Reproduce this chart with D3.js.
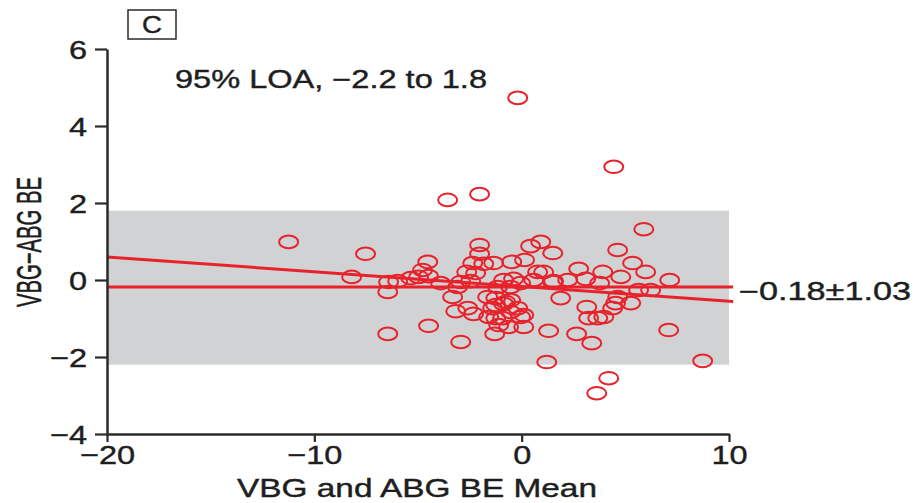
<!DOCTYPE html>
<html>
<head>
<meta charset="utf-8">
<script src="https://cdn.jsdelivr.net/npm/d3@7"></script>
<style>
  body { margin: 0; background: #fff; }
  svg { display: block; }
  text { font-family: "Liberation Sans", Arial, sans-serif; fill: #1e1e1e; stroke: #1e1e1e; stroke-width: 0.4px; }
  .tick text { font-size: 26px; fill: #1e1e1e; }
</style>
</head>
<body>
<svg width="918" height="503"></svg>
<script>
// mean of VBG and ABG BE (x) vs difference VBG-ABG BE (y)
var meanBE = [-0.19, 4.44, -2.03, -3.57, 5.89, -11.24, -7.53, -8.20, -6.46, -6.46,
  -4.49, -2.94, 1.21, 8.73, 4.20, 3.62, 7.09, 7.14, -2.03, -2.03,
  0.92, 0.43, 1.50, 4.63, -2.36, -1.83, -1.35, -0.48, 0.14, -4.53,
  5.35, 5.98, 3.91, 2.75, 4.78, 2.22, 3.09, 3.76, 0.77, 0.58,
  1.54, -0.39, -2.65, -2.22, -2.46, -3.09, -1.16, -0.53, -3.33, 1.88,
  4.63, 5.26, 6.22, 4.39, 3.14, 3.23, 3.67, 3.96, -3.18, -2.60,
  -2.32, -1.59, -1.40, -1.64, -1.25, -0.87, -0.53, -0.77, -0.19, -0.05,
  0.10, 0.10, -0.63, -1.11, -1.30, -1.25, -0.92, 1.30, 2.65, 3.38,
  -4.78, -4.49, -6.42, -5.98, -5.35, -4.97, -3.91, -2.94, 1.06, 1.50,
  -0.05, -0.87, -1.25, -0.53, 4.53, 5.64];
var diffBE = [4.73, 2.94, 2.23, 2.08, 1.32, 0.99, 0.68, 0.08, -0.31, -1.40,
  -1.19, -1.61, -2.13, -2.10, -2.55, -2.94, -1.30, 0.00, 0.91, 0.68,
  0.99, 0.88, 0.70, 0.78, 0.44, 0.42, 0.44, 0.47, 0.52, 0.47,
  0.44, 0.21, 0.21, 0.29, 0.08, 0.00, 0.03, -0.08, 0.21, 0.00,
  -0.03, 0.03, 0.21, 0.18, -0.03, -0.18, -0.18, -0.18, -0.44, -0.47,
  -0.44, -0.60, -0.26, -0.73, -0.70, -0.99, -0.99, -0.96, -0.81, -0.73,
  -0.88, -0.96, -0.73, -0.44, -0.47, -0.62, -0.52, -0.57, -0.73, -0.96,
  -0.91, -1.22, -1.22, -1.17, -1.40, -0.99, -0.99, -1.32, -1.40, -1.64,
  0.26, 0.10, -0.05, -0.03, 0.05, 0.08, -0.08, -0.05, 0.21, -0.05,
  -0.08, 0.00, -0.65, -0.83, -0.60, -0.26];

var xTicks = [-20, -10, 0, 10];
var yTicks = [-4, -2, 0, 2, 4, 6];
var meanDiff = -0.18, sdDiff = 1.03;
var loa = [-2.2, 1.8];
var regLine = [[-20, 0.6], [10.2, -0.56]];

var red = "#e8222b";
var svg = d3.select("svg");

var x = d3.scaleLinear().domain([-20, 10]).range([107, 729]);
var y = d3.scaleLinear().domain([-4, 6]).range([434, 49]);

var minus = d => d < 0 ? "\u2212" + Math.abs(d) : d;

// stretch text sideways like the original figure
function widen(sel, k) {
  sel.each(function() {
    var w = this.getComputedTextLength();
    d3.select(this).attr("textLength", w * k).attr("lengthAdjust", "spacingAndGlyphs");
  });
}

// 95% limits of agreement band
svg.append("rect")
  .attr("x", x(-20))
  .attr("y", y(loa[1]))
  .attr("width", x(10) - x(-20))
  .attr("height", y(loa[0]) - y(loa[1]))
  .attr("fill", "#d1d2d4");

// points
svg.append("g")
  .selectAll("ellipse")
  .data(meanBE.map(function(d, i) { return [d, diffBE[i]]; }))
  .enter()
  .append("ellipse")
  .attr("cx", d => x(d[0]))
  .attr("cy", d => y(d[1]))
  .attr("rx", 9.5)
  .attr("ry", 6.3)
  .attr("fill", "none")
  .attr("stroke", red)
  .attr("stroke-width", 2);

// mean difference and regression lines
svg.append("line")
  .attr("x1", x(-20)).attr("x2", x(10.2))
  .attr("y1", y(meanDiff)).attr("y2", y(meanDiff))
  .attr("stroke", red).attr("stroke-width", 3);

svg.append("path")
  .attr("d", d3.line().x(d => x(d[0])).y(d => y(d[1]))(regLine))
  .attr("fill", "none")
  .attr("stroke", red).attr("stroke-width", 3);

// axes
var xAxis = svg.append("g")
  .attr("transform", "translate(0," + y(-4) + ")")
  .call(d3.axisBottom(x).tickValues(xTicks).tickSize(8).tickSizeOuter(0).tickPadding(4)
    .tickFormat(minus));
var yAxis = svg.append("g")
  .attr("transform", "translate(" + x(-20) + ",0)")
  .call(d3.axisLeft(y).tickValues(yTicks).tickSize(12).tickSizeOuter(0).tickPadding(8)
    .tickFormat(minus));
[xAxis, yAxis].forEach(function(a) {
  a.select(".domain").attr("stroke", "#2a2a2a").attr("stroke-width", 2.5);
  a.selectAll(".tick line").attr("stroke", "#2a2a2a").attr("stroke-width", 2.2);
  a.selectAll(".tick text").attr("font-size", null).call(widen, 1.25);
});
yAxis.selectAll(".tick text").attr("dy", "0.36em");

// axis titles
svg.append("text")
  .attr("x", 417).attr("y", 497)
  .attr("text-anchor", "middle")
  .style("font-size", "25px")
  .attr("textLength", 360).attr("lengthAdjust", "spacingAndGlyphs")
  .text("VBG and ABG BE Mean");

svg.append("text")
  .attr("transform", "translate(41,242) scale(1.35,1) rotate(-90)")
  .attr("text-anchor", "middle")
  .style("font-size", "26px")
  .attr("textLength", 130).attr("lengthAdjust", "spacingAndGlyphs")
  .text("VBG\u2212ABG BE");

// panel letter
svg.append("rect")
  .attr("x", 128).attr("y", 10).attr("width", 48).attr("height", 29)
  .attr("fill", "#fff").attr("stroke", "#2a2a2a").attr("stroke-width", 1.5);
svg.append("text")
  .attr("x", 152).attr("y", 33)
  .attr("text-anchor", "middle")
  .style("font-size", "23px")
  .text("C")
  .call(widen, 1.2);

svg.append("text")
  .attr("x", 175).attr("y", 88)
  .style("font-size", "25px")
  .attr("textLength", 312).attr("lengthAdjust", "spacingAndGlyphs")
  .text("95% LOA, \u2212" + Math.abs(loa[0]) + " to " + loa[1]);

svg.append("text")
  .attr("x", 739).attr("y", 300)
  .style("font-size", "25px")
  .attr("textLength", 172).attr("lengthAdjust", "spacingAndGlyphs")
  .text("\u2212" + Math.abs(meanDiff).toFixed(2) + "\u00b1" + sdDiff);
</script>
</body>
</html>
